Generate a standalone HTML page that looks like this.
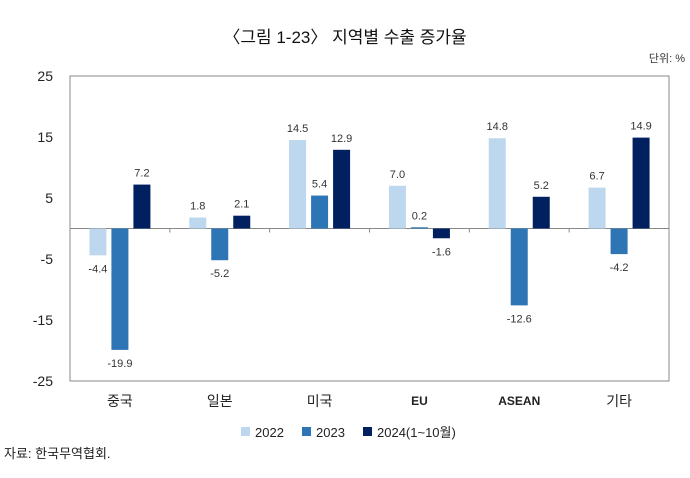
<!DOCTYPE html>
<html><head><meta charset="utf-8"><style>
body{margin:0;width:690px;height:473px;background:#fff;overflow:hidden;font-family:"Liberation Sans","Noto Sans CJK KR",sans-serif;}
</style></head><body>
<svg width="690" height="473" font-family="Liberation Sans, Noto Sans CJK KR, sans-serif">
<text x="345" y="43" text-anchor="middle" font-size="17" fill="#111">〈그림 1-23〉 지역별 수출 증가율</text>
<text x="685" y="62" text-anchor="end" font-size="11" fill="#333">단위: %</text>
<rect x="70" y="76" width="599" height="305" fill="none" stroke="#888" stroke-width="1"/>
<g id="g"></g>
<g font-size="13" fill="#222">
<rect x="241" y="427" width="9" height="9" fill="#bdd7ee"/><text x="255" y="437">2022</text>
<rect x="302" y="427" width="9" height="9" fill="#2e75b6"/><text x="316" y="437">2023</text>
<rect x="363" y="427" width="9" height="9" fill="#002060"/><text x="377" y="437">2024(1~10월)</text>
</g>
<text x="4" y="458" font-size="13" fill="#222">자료: 한국무역협회.</text>
</svg>
<script>
const categories=["중국","일본","미국","EU","ASEAN","기타"];
const s2022=[-4.4,1.8,14.5,7.0,14.8,6.7];
const s2023=[-19.9,-5.2,5.4,0.2,-12.6,-4.2];
const s2024=[7.2,2.1,12.9,-1.6,5.2,14.9];
const yTicks=[25,15,5,-5,-15,-25];
const seriesNames=["2022","2023","2024"];
const colors=["#bdd7ee","#2e75b6","#002060"];
const X0=70,W=599,Y0=76,H=305,YMAX=25,YMIN=-25;
const y=v=>Y0+(YMAX-v)/(YMAX-YMIN)*H;
const cw=W/categories.length;
const xc=i=>X0+(i+0.5)*cw;
const g=document.getElementById('g');
const NS="http://www.w3.org/2000/svg";
function mk(t,a){const e=document.createElementNS(NS,t);for(const k in a)e.setAttribute(k,a[k]);g.appendChild(e);return e;}
yTicks.forEach(t=>{const e=mk('text',{x:53,y:y(t)+5,'text-anchor':'end','font-size':14,fill:'#222'});e.textContent=t;

});
let z=mk('line',{x1:X0,x2:X0+W,y1:y(0),y2:y(0),stroke:'#888'});


for(let i=1;i<categories.length;i++){const e=mk('line',{x1:X0+i*cw,x2:X0+i*cw,y1:y(0),y2:y(0)+4,stroke:'#888'});

}
const all=[s2022,s2023,s2024];
categories.forEach((c,i)=>{
 const latin=/^[A-Z]+$/.test(c);
 const t=mk('text',{x:xc(i),y:latin?405:406,'text-anchor':'middle','font-size':latin?12:14,'font-weight':latin?'bold':'normal',fill:'#222'});t.textContent=c;
 
 
 all.forEach((s,k)=>{
  const v=s[i],cx=xc(i)+(k-1)*22,bw=17;
  const r=mk('rect',{x:cx-bw/2,y:Math.min(y(v),y(0)),width:bw,height:Math.abs(y(v)-y(0)),fill:colors[k]});
  
  
  const l=mk('text',{x:cx,y:v>=0?y(v)-8:y(v)+17,'text-anchor':'middle','font-size':11,fill:'#333'});
  l.textContent=v.toFixed(1);
  
  
 });
});
</script>
</body></html>
